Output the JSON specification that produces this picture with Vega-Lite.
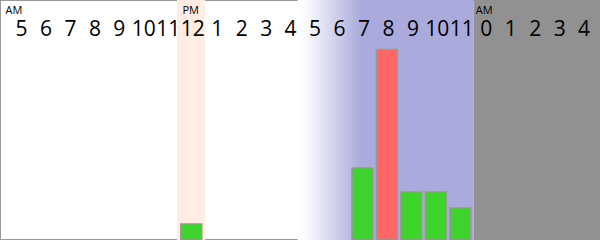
{
  "$schema": "https://vega.github.io/schema/vega-lite/v6.json",
  "width": 600,
  "height": 240,
  "padding": 0,
  "autosize": {"type": "none"},
  "background": "white",
  "config": {
    "view": {"stroke": "#999999", "strokeWidth": 2, "fill": "white"},
    "font": "Open Sans"
  },
  "datasets": {
    "zones": [
      {"start": 6.38, "end": 7.52, "zone": "noon"},
      {"start": 11.3, "end": 18.5, "zone": "evening"},
      {"start": 18.5, "end": 23.67, "zone": "night"}
    ],
    "hours": [
      {"idx": 0, "period": "AM"},
      {"idx": 7, "period": "PM"},
      {"idx": 19, "period": "AM"}
    ],
    "counts": [
      {"idx": 7, "count": 1, "status": "ok"},
      {"idx": 14, "count": 4.5, "status": "ok"},
      {"idx": 15, "count": 11.9, "status": "peak"},
      {"idx": 16, "count": 3, "status": "ok"},
      {"idx": 17, "count": 3, "status": "ok"},
      {"idx": 18, "count": 2, "status": "ok"}
    ]
  },
  "encoding": {
    "x": {
      "field": "idx",
      "type": "quantitative",
      "scale": {"domain": [-0.86, 23.67], "nice": false, "zero": false, "padding": 0},
      "axis": {
        "orient": "top",
        "title": null,
        "values": [0, 1, 2, 3, 4, 5, 6, 7, 8, 9, 10, 11, 12, 13, 14, 15, 16, 17, 18, 19, 20, 21, 22, 23],
        "labelExpr": "datum.value == 7 ? '12' : '' + ((datum.value + 5) % 12)",
        "domain": false,
        "ticks": false,
        "tickSize": 0,
        "grid": false,
        "labelPadding": -35,
        "labelBaseline": "alphabetic",
        "labelFont": "Open Sans",
        "labelFontSize": 21,
        "labelColor": "#000000",
        "labelFlush": false,
        "labelOverlap": false,
        "labelBound": false,
        "zindex": 2
      }
    }
  },
  "layer": [
    {
      "data": {"name": "zones"},
      "transform": [{"filter": "datum.zone === 'noon'"}],
      "mark": {"type": "rect", "fill": "#ffede3"},
      "encoding": {
        "x": {"field": "start", "type": "quantitative"},
        "x2": {"field": "end"}
      }
    },
    {
      "data": {"name": "zones"},
      "transform": [{"filter": "datum.zone === 'evening'"}],
      "mark": {
        "type": "rect",
        "fill": {
          "gradient": "linear",
          "x1": 0, "y1": 0, "x2": 1, "y2": 0,
          "stops": [
            {"offset": 0, "color": "#ffffff"},
            {"offset": 0.05, "color": "#fbfbfe"},
            {"offset": 0.36, "color": "#aaaadc"},
            {"offset": 1, "color": "#aaaadc"}
          ]
        }
      },
      "encoding": {
        "x": {"field": "start", "type": "quantitative"},
        "x2": {"field": "end"}
      }
    },
    {
      "data": {"name": "zones"},
      "transform": [{"filter": "datum.zone === 'night'"}],
      "mark": {"type": "rect", "fill": "#919191"},
      "encoding": {
        "x": {"field": "start", "type": "quantitative"},
        "x2": {"field": "end"}
      }
    },
    {
      "data": {"name": "counts"},
      "mark": {"type": "bar", "width": 21, "xOffset": -1, "stroke": "#999999", "strokeWidth": 1.5},
      "encoding": {
        "y": {"field": "count", "type": "quantitative", "scale": {"domain": [0, 15], "nice": false}, "axis": null},
        "color": {
          "field": "status",
          "type": "nominal",
          "scale": {"domain": ["ok", "peak"], "range": ["#3dd22c", "#ff6666"]},
          "legend": null
        }
      }
    },
    {
      "data": {"name": "hours"},
      "transform": [{"filter": "datum.idx === 0"}],
      "mark": {"type": "text", "font": "Open Sans", "fontSize": 11, "baseline": "alphabetic", "align": "center", "dx": -7, "color": "#000000"},
      "encoding": {
        "y": {"value": 14},
        "text": {"field": "period"}
      }
    },
    {
      "data": {"name": "hours"},
      "transform": [{"filter": "datum.idx !== 0"}],
      "mark": {"type": "text", "font": "Open Sans", "fontSize": 11, "baseline": "alphabetic", "align": "center", "dx": -1.5, "color": "#000000"},
      "encoding": {
        "y": {"value": 14},
        "text": {"field": "period"}
      }
    }
  ]
}
